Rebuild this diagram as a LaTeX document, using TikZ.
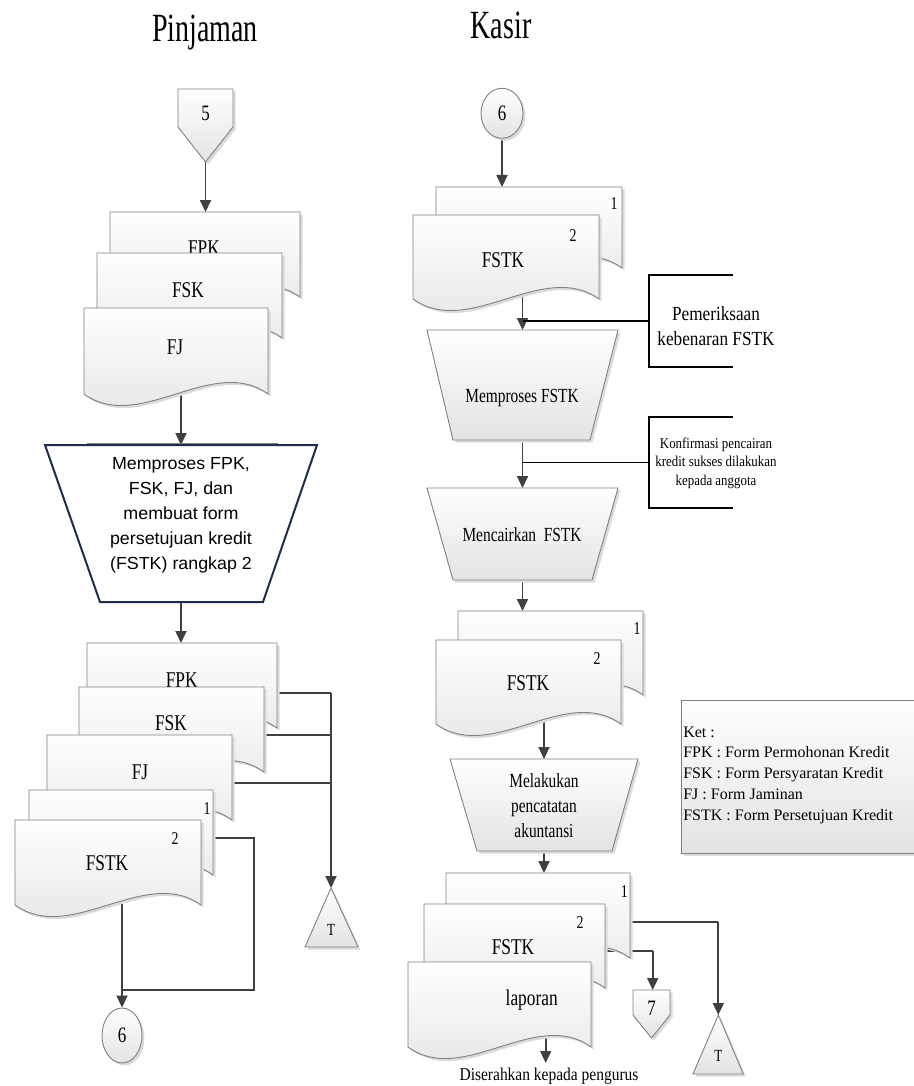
\documentclass[tikz,border=0pt]{standalone}
\usepackage{fontspec}
\setmainfont{Liberation Serif}
\newfontfamily\fcond{Liberation Serif}[FakeStretch=0.77]
\newfontfamily\fcondb{Liberation Serif}[FakeStretch=0.86]
\newfontfamily\ftitle{Liberation Serif}[FakeStretch=0.70]
\newfontfamily\farial{Liberation Sans}[FakeStretch=1.02]
\usetikzlibrary{arrows.meta,calc,shapes.geometric}
\pgfdeclarelayer{bg}
\pgfsetlayers{bg,main}
\definecolor{linecol}{HTML}{404040}
\definecolor{edgecol}{HTML}{808080}
\definecolor{navy}{HTML}{1F2D4A}
\definecolor{shadecol}{HTML}{E3E3E3}
\tikzset{
  conn/.style={draw=linecol, line width=1.8pt},
  arr/.style={conn, -{Triangle[length=12pt,width=11pt]}},
  note/.style={draw=black, line width=1.1pt},
  shapefill/.style={draw=edgecol, line width=0.9pt, top color=white, bottom color=shadecol,
     preaction={fill=black!14, transform canvas={shift={(2.5pt,-2.5pt)}}}},
  bbox/.style={rectangle, draw=none, inner sep=0pt, outer sep=0pt},
  txt/.style={inner sep=0pt, outer sep=0pt, anchor=base},
  doclbl/.style={txt, font=\fcond\fontsize{22.5}{25}\selectfont},
  numlbl/.style={txt, font=\fcond\fontsize{18}{20}\selectfont},
  conlbl/.style={txt, font=\fcond\fontsize{22}{24}\selectfont},
  tlbl/.style={txt, font=\fcond\fontsize{17}{19}\selectfont},
  proclbl/.style={txt, font=\fcond\fontsize{20}{22}\selectfont},
  notelbl/.style={txt, font=\fcondb\fontsize{20}{22}\selectfont},
  smalllbl/.style={txt, font=\fcondb\fontsize{15}{17}\selectfont},
  dslbl/.style={txt, font=\fcondb\fontsize{18}{20}\selectfont},
  leglbl/.style={txt, anchor=base west, font=\fontsize{16}{18}\selectfont},
  ttl/.style={txt, font=\ftitle\fontsize{40}{44}\selectfont},
  arlbl/.style={txt, font=\farial\fontsize{17.5}{20}\selectfont},
  circ/.style={shapefill, ellipse, inner sep=0pt, font=\fcond\fontsize{22}{24}\selectfont},
}
\newcommand\bnode[5]{\node[bbox, minimum width={(#4-#2)*1pt}, minimum height={(#5-#3)*1pt}] (#1) at ({(#2+#4)/2},{(#3+#5)/2}) {};}
\newcommand\mkdoc[5]{%
  \path[shapefill] (#2,#3) -- (#4,#3) -- (#4,#5)
    .. controls ({#4-0.3*(#4-#2)},{#5-40}) and ({#2+0.3*(#4-#2)},{#5+40}) .. (#2,#5) -- cycle;
  \bnode{#1}{#2}{#3}{#4}{#5}}
\begin{document}
\begin{tikzpicture}[x=1pt,y=-1pt]
\useasboundingbox (0,0) rectangle (913,1086);
% titles
\node[ttl] (ttlP) at (205,42) {Pinjaman};
\node[ttl] (ttlK) at (501,38.5) {Kasir};

% ===== Pinjaman =====
\path[shapefill] (178,89) -- (233,89) -- (233,127) -- (205.5,162) -- (178,127) -- cycle;
\bnode{p5}{178}{89}{233}{162}
\node[conlbl] (p5t) at (205.5,120.5) {5};

\mkdoc{dA}{110}{212}{300}{297}
\node[doclbl] (dAt) at (204,255.5) {FPK};
\mkdoc{dB}{97}{253}{282}{338}
\node[doclbl] (dBt) at (188,297.5) {FSK};
\mkdoc{dC}{84}{308}{268}{394}
\node[doclbl] (dCt) at (175,354.5) {FJ};

\draw[edgecol, line width=0.8pt] (87,443) -- (278,443);
\path[draw=navy, line width=2pt, fill=white] (45,445) -- (317,445) -- (263,602) -- (100,602) -- cycle;
\bnode{tL}{45}{445}{317}{602}
\node[arlbl] (tL1) at (181,469.3) {Memproses FPK,};
\node[arlbl] (tL2) at (181,494.3) {FSK, FJ, dan};
\node[arlbl] (tL3) at (181,519.3) {membuat form};
\node[arlbl] (tL4) at (181,544.5) {persetujuan kredit};
\node[arlbl] (tL5) at (181,569.5) {(FSTK) rangkap 2};

\mkdoc{dD}{87}{643}{277}{728}
\node[doclbl] (dDt) at (181.7,687.5) {FPK};
\mkdoc{dE}{79}{687}{264}{772}
\node[doclbl] (dEt) at (171,730.5) {FSK};
\mkdoc{dF}{47}{735}{232}{820}
\node[doclbl] (dFt) at (140,779.5) {FJ};
\mkdoc{dG}{29}{790}{213}{875}
\node[numlbl] (dGn) at (207,814) {1};
\mkdoc{dH}{15}{820}{201}{905}
\node[numlbl] (dHn) at (175,844) {2};
\node[doclbl] (dHt) at (107,870.5) {FSTK};

\path[shapefill] (331,888) -- (358,947) -- (305,947) -- cycle;
\bnode{TL}{305}{888}{358}{947}
\node[tlbl] (TLt) at (331,935) {T};

\node[circ, minimum width=40pt, minimum height=55pt] (c6L) at (122,1035.5) {6};

% ===== Kasir =====
\node[circ, minimum width=42pt, minimum height=50pt] (c6R) at (502,113.3) {6};
\mkdoc{dI}{436}{187}{622}{268}
\node[numlbl] (dIn) at (614,209) {1};
\mkdoc{dJ}{413}{215}{599}{299}
\node[numlbl] (dJn) at (573,241) {2};
\node[doclbl] (dJt) at (503,267.5) {FSTK};

\path[shapefill] (427,330) -- (618,330) -- (590,440) -- (453,440) -- cycle;
\bnode{mP}{427}{330}{618}{440}
\node[proclbl] (mPt) at (522,402) {Memproses FSTK};

\bnode{aB1}{649}{275}{733}{367}
\draw[note] (aB1.north east) -- (aB1.north west) -- (aB1.south west) -- (aB1.south east);
\node[notelbl] (aB1a) at (716,320) {Pemeriksaan};
\node[notelbl] (aB1b) at (716,345) {kebenaran FSTK};

\path[shapefill] (427,488) -- (618,488) -- (592,580) -- (453,580) -- cycle;
\bnode{mC}{427}{488}{618}{580}
\node[proclbl] (mCt) at (522,541.7) {Mencairkan\ \ FSTK};

\bnode{aB2}{649}{417}{733}{508}
\draw[note] (aB2.north east) -- (aB2.north west) -- (aB2.south west) -- (aB2.south east);
\node[smalllbl] (aB2a) at (716,448) {Konfirmasi pencairan};
\node[smalllbl] (aB2b) at (716,466.5) {kredit sukses dilakukan};
\node[smalllbl] (aB2c) at (716,485) {kepada anggota};

\mkdoc{dK}{458}{611}{643}{695}
\node[numlbl] (dKn) at (637,634.4) {1};
\mkdoc{dL}{436}{640}{621}{724}
\node[numlbl] (dLn) at (597,664) {2};
\node[doclbl] (dLt) at (528,690) {FSTK};

\path[shapefill] (450,759) -- (638,759) -- (612,851) -- (477,851) -- cycle;
\bnode{mA}{450}{759}{638}{851}
\node[proclbl] (mA1) at (544,787) {Melakukan};
\node[proclbl] (mA2) at (544,812) {pencatatan};
\node[proclbl] (mA3) at (544,837) {akuntansi};

\mkdoc{dM}{446}{873}{630}{958}
\node[numlbl] (dMn) at (624.3,897) {1};
\mkdoc{dN}{424}{904}{605}{988}
\node[numlbl] (dNn) at (580,928) {2};
\node[doclbl] (dNt) at (513,954) {FSTK};
\mkdoc{dO}{408}{962}{591}{1047}
\node[doclbl] (dOt) at (531.7,1005) {laporan};
\node[dslbl] (dS) at (549,1080) {Diserahkan kepada pengurus};

\path[shapefill] (633,990) -- (670,990) -- (670,1015) -- (651.5,1038) -- (633,1015) -- cycle;
\bnode{p7}{633}{990}{670}{1038}
\node[conlbl] (p7t) at (651.5,1015) {7};

\path[shapefill] (718.3,1015) -- (743.3,1074) -- (693,1074) -- cycle;
\bnode{TR}{693}{1015}{743.3}{1074}
\node[tlbl] (TRt) at (718.3,1061) {T};

% legend
\node[shapefill, rectangle, inner sep=0pt, minimum width=234.5pt, minimum height=153pt] (leg) at (798.75,776.5) {};
\node[leglbl] (leg0) at (683.3,737) {Ket :};
\node[leglbl] (leg1) at (683.3,757.9) {FPK : Form Permohonan Kredit};
\node[leglbl] (leg2) at (683.3,778.8) {FSK : Form Persyaratan Kredit};
\node[leglbl] (leg3) at (683.3,799.7) {FJ : Form Jaminan};
\node[leglbl] (leg4) at (683.3,820.6) {FSTK : Form Persetujuan Kredit};

% ===== connectors =====
\begin{pgfonlayer}{bg}
\draw[arr] (p5.south) -- (p5.south |- dA.north);
\draw[arr] (tL.north |- dC.center) -- (tL.north);
\draw[arr] (tL.south) -- (tL.south |- dD.north);
\coordinate (vA) at (331,693);
\coordinate (vB) at (331,735);
\coordinate (vC) at (331,783);
\draw[conn] (vA -| dD.east) -- (vA);
\draw[conn] (vB -| dE.east) -- (vB);
\draw[conn] (vC -| dF.east) -- (vC);
\draw[arr] (vA) -- (vA |- TL.north);
\coordinate (vD) at (254,838);
\coordinate (vE) at (254,990);
\draw[conn] (vD -| dG.east) -- (vD) -- (vE) -- (vE -| c6L.north);
\draw[arr] (c6L.north |- dH.center) -- (c6L.north);

\draw[arr] (c6R.south) -- (c6R.south |- dI.north);
\draw[arr] (mP.north |- dJ.center) -- (mP.north);
\draw[note] (aB1.west) -- (aB1.west -| mP.north);
\draw[arr] (mP.south) -- (mC.north);
\draw[note] (aB2.west) -- (aB2.west -| mP.south);
\draw[arr] (mC.south) -- (mC.south |- dK.north);
\draw[arr] (mA.north |- dL.center) -- (mA.north);
\draw[arr] (mA.south) -- (mA.south |- dM.north);
\coordinate (oO) at (545.7,1063);
\draw[arr] (oO |- dO.center) -- (oO);
\coordinate (vG) at (718.3,921.7);
\coordinate (vH) at (652.7,950.7);
\draw[conn] (vG -| dM.east) -- (vG);
\draw[arr] (vG) -- (vG |- TR.north);
\draw[conn] (vH -| dN.east) -- (vH);
\draw[arr] (vH) -- (vH |- p7.north);
\end{pgfonlayer}
\end{tikzpicture}
\end{document}
